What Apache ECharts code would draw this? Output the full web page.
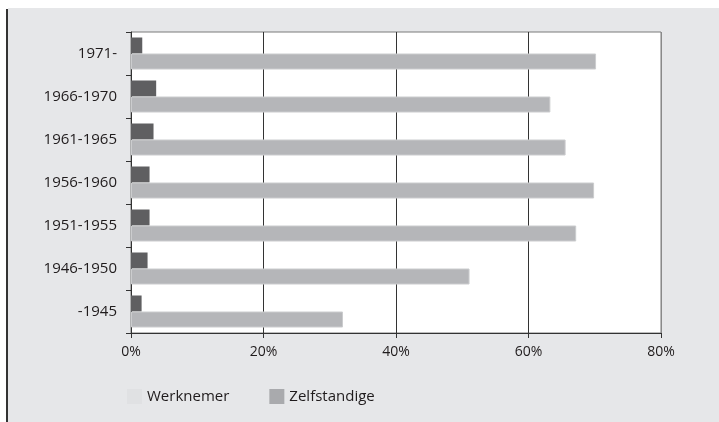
<!DOCTYPE html>
<html>
<head>
<meta charset="utf-8">
<script src="https://cdn.jsdelivr.net/npm/echarts@6/dist/echarts.min.js"></script>
<style>
html,body{margin:0;padding:0;background:#fff;}
#chart{width:719px;height:422px;}
</style>
</head>
<body>
<div id="chart"></div>
<script>
var categories = ['-1945', '1946-1950', '1951-1955', '1956-1960', '1961-1965', '1966-1970', '1971-'];
var werknemer = [1.6, 2.5, 2.8, 2.8, 3.4, 3.8, 1.7];
var zelfstandige = [32.0, 51.1, 67.2, 69.9, 65.6, 63.3, 70.2];
var xTicks = [0, 20, 40, 60, 80];

var chart = echarts.init(document.getElementById('chart'), null, {renderer: 'canvas'});
var font = '"Open Sans", "DejaVu Sans", sans-serif';
var option = {
  animation: false,
  backgroundColor: '#ffffff',
  graphic: [
    {type: 'rect', z: -20, silent: true, shape: {x: 8, y: 8, width: 711, height: 414}, style: {fill: '#e6e7e9'}},
    {type: 'rect', z: -19, silent: true, shape: {x: 6, y: 9, width: 2, height: 413}, style: {fill: '#333333'}}
  ],
  grid: {
    left: 131, right: 58, top: 32, bottom: 89,
    show: true, backgroundColor: '#ffffff', borderColor: '#7a7a7a', borderWidth: 1
  },
  legend: {
    left: 122, top: 384,
    itemWidth: 15, itemHeight: 15, itemGap: 40,
    icon: 'rect',
    textStyle: {fontFamily: font, fontSize: 15, color: '#1f1b1c'},
    data: [
      {name: 'Werknemer', itemStyle: {color: '#e0e1e3', borderWidth: 0}},
      {name: 'Zelfstandige', itemStyle: {color: '#a9aaad', borderWidth: 0}}
    ]
  },
  xAxis: {
    type: 'value', min: xTicks[0], max: xTicks[xTicks.length - 1], interval: 20,
    axisLine: {show: true, lineStyle: {color: '#333333', width: 1}},
    axisTick: {show: true, length: 5, lineStyle: {color: '#333333'}},
    axisLabel: {formatter: '{value}%', fontFamily: font, fontSize: 14, color: '#1f1b1c', margin: 12},
    splitLine: {show: true, lineStyle: {color: ['#333333', '#333333', '#333333', '#333333', '#8a8a8a'], width: 1}}
  },
  yAxis: {
    type: 'category', data: categories,
    axisLine: {show: true, lineStyle: {color: '#333333', width: 1}},
    axisTick: {show: true, length: 5, lineStyle: {color: '#333333'}},
    axisLabel: {fontFamily: font, fontSize: 15, color: '#1f1b1c', margin: 14},
    splitLine: {show: false}
  },
  series: [
    {
      name: 'Werknemer', type: 'bar', data: werknemer,
      barWidth: 16, barGap: '0%',
      itemStyle: {color: '#5f5f61'}
    },
    {
      name: 'Zelfstandige', type: 'bar', data: zelfstandige,
      barWidth: 16, barGap: '0%',
      itemStyle: {color: '#b5b6b9', borderColor: '#cbccce', borderWidth: 1}
    }
  ]
};
chart.setOption(option);
</script>
</body>
</html>
